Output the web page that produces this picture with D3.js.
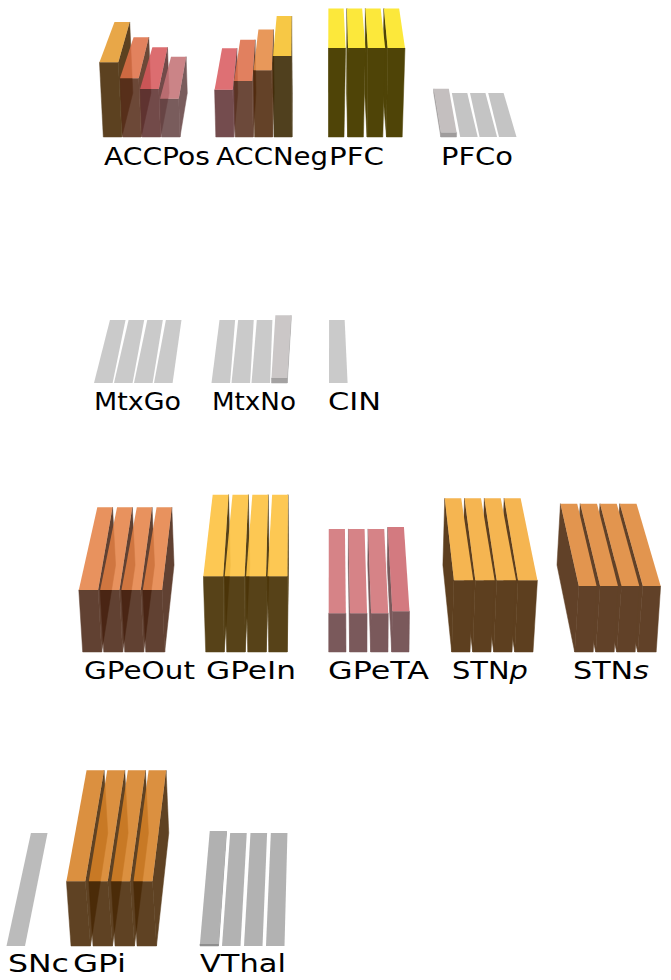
<!DOCTYPE html>
<html><head><meta charset="utf-8">
<style>html,body{margin:0;padding:0;background:#fff}svg{display:block}text{font-family:"DejaVu Sans",sans-serif;fill:#000}</style>
<script src="https://cdn.jsdelivr.net/npm/d3@7/dist/d3.min.js"></script>
</head><body><div id="c"></div>
<script>
// ---- data ----
const panelNames = ["ACCPos","ACCNeg","PFC","PFCo","MtxGo","MtxNo","CIN","GPeOut","GPeIn","GPeTA","STNp","STNs","SNc","GPi","VThal"];
const panelRows  = [0,0,0,0, 1,1,1, 2,2,2,2,2, 3,3,3];
const panelCols  = [0,1,2,3, 0,1,2, 0,1,2,3,4, -0.5,0,1];
const barValues = [
  [.84,.66,.54,.43],[.53,.63,.75,.91],[1,1,1,1],[.05,0,0,0],
  [0,0,0,0],[0,0,0,.055],[0],
  [.64,.64,.64,.64],[.78,.78,.78,.78],[.40,.40,.40,.42],[.74,.74,.74,.74],[.68,.68,.68,.68],
  [0],[.64,.64,.64,.64],[.02,0,0,0]
];
const topColors = [
  ["#E8A848","#E2835F","#DC6E70","#CC8488"],["#DE7074","#E2805F","#E8985A","#F8C845"],["#FCE83C","#FCE83C","#FCE83C","#FCE83C"],["#C4BFBF","#C4C4C4","#C4C4C4","#C4C4C4"],
  ["#CACACA","#CACACA","#CACACA","#CACACA"],["#CACACA","#CACACA","#CACACA","#CBC8C8"],["#CACACA"],
  ["#E8935F","#E8935F","#E8935F","#E8935F"],["#FDC853","#FDC853","#FDC853","#FDC853"],["#D78488","#D78488","#D78488","#D47A80"],["#F5B552","#F5B552","#F5B552","#F5B552"],["#E29650","#E29650","#E29650","#E29650"],
  ["#BBBBBB"],["#DC9040","#DC9040","#DC9040","#DC9040"],["#B2B2B2","#B2B2B2","#B2B2B2","#B2B2B2"]
];
const frontColors = [
  ["#5C4218","#6D4838","#734B4A","#7A5C5C"],["#744C4E","#6C4A3A","#644328","#504010"],["#504508","#504508","#504508","#504508"],["#A09C9C","#A0A0A0","#A0A0A0","#A0A0A0"],
  ["#A0A0A0","#A0A0A0","#A0A0A0","#A0A0A0"],["#A0A0A0","#A0A0A0","#A0A0A0","#A5A2A2"],["#A0A0A0"],
  ["#624233","#624233","#624233","#624233"],["#584218","#584218","#584218","#584218"],["#7A5A5C","#7A5A5C","#7A5A5C","#7A5A5C"],["#5E4020","#5E4020","#5E4020","#5E4020"],["#624229","#624229","#624229","#624229"],
  ["#909090"],["#5F4223","#5F4223","#5F4223","#5F4223"],["#909090","#909090","#909090","#909090"]
];
const panelAlpha = [.87,.88,.98,.85, .85,.85,.85, .85,.93,.85,.9,.85, .85,.88,.85];
// footprint and top-face widths as they appear in the picture
const panelFloorW    = [18.5,18,15.7,15.7, 15.7,15.7,15.7, 19,18.5,17.3,18.3,18.5, 18,19.5,18];
const panelTopFrontW = [18.5,18,17,15.7, 15.7,15.7,15.7, 19,19.5,17,19,17.5, 18,18.6,18];
const panelTopBackW  = [15,14.7,15,15, 15.7,15.7,15.7, 15,15.6,16,16.2,16.5, 16,17.2,16];
const labelWidths = [106,112,55,72, 87,84,53, 111,90,101,76,76, 61,53,86];
const labelLeft   = [104,216,329,441, 94,212,328, 84,206,328,452,573, 8,73,200];
// ---- stage of the scene, one entry per row ----
const rowFloorY = [137,383,652,946];
const rowDepth  = [44,63,87,113];
const rowX0     = [103.3,94,82.7,71];
const rowPitch  = [112.5,117.5,123,129];
const rowBarPitch = [19.4,20,21,22];
const rowTileW  = [17.5,18.6,18,18.5];
const rowTileB  = [15.4,15.6,16,16.6];
const rowFull   = [89,91,97,101];
const rowBack   = [.95,.94,.93,.97];
const rowBaseline = [165,410,679,972];
const rowFont = [25,25,24,25];
const vanish = {x:330,y:-550}, nadir = {x:330,y:4600};

const W=671,H=980;
const svg=d3.select("#c").append("svg").attr("width",W).attr("height",H);
const line=d3.line();
const poly=p=>line(p)+"Z";
const under=(c,a)=>{const o=d3.rgb(c),f=v=>Math.max(0,Math.min(255,(v-(1-a)*255)/a));return d3.rgb(f(o.r),f(o.g),f(o.b)).formatHex();};
const colX=rowX0.map((x,i)=>d3.scaleLinear().domain([0,1]).range([x,x+rowPitch[i]]));
const barX=rowBarPitch.map(p=>d3.scaleLinear().domain([0,1]).range([0,p]));
const zScale=rowFull.map(f=>d3.scaleLinear().domain([0,1]).range([0,f]));
function corner(r,xFront,back,v,dBack){
  const yF=rowFloorY[r]-(back?rowDepth[r]:0);
  let x=xFront+(vanish.x-xFront)*(rowFloorY[r]-yF)/(rowFloorY[r]-vanish.y);
  if(back) x+=dBack;
  const z=zScale[r](v)*(back?rowBack[r]:1);
  return [x+(x-nadir.x)*z/(nadir.y-yF),yF-z];
}
function bar(r,xL,v,i){
  const tile=v<.03;
  const wF=tile?rowTileW[r]:panelFloorW[i],
        wT=tile?rowTileW[r]:panelTopFrontW[i],
        wB=tile?rowTileB[r]:panelTopBackW[i];
  const fl0=corner(r,xL,0,0,0),fr0=corner(r,xL+wF,0,0,0),
        bl0=corner(r,xL,1,0,0),br0=corner(r,xL,1,0,wB),
        fl=corner(r,xL,0,v,0),fr=corner(r,xL+wT,0,v,0),
        bl=corner(r,xL,1,v,0),br=corner(r,xL,1,v,wB);
  return {front:[fl0,fr0,fr,fl],top:[fl,fr,br,bl],
          right:[fr0,br0,br,fr],left:[fl0,bl0,bl,fl],
          side:fr0[0]<vanish.x?"right":(fl0[0]>vanish.x?"left":null)};
}
const dark=(g,d,c)=>g.append("path").attr("d",d).attr("fill",c).attr("stroke",c).attr("stroke-width",.5).attr("stroke-linejoin","round");
panelNames.forEach((name,i)=>{
  const r=panelRows[i],x0=colX[r](panelCols[i]),a=panelAlpha[i];
  const vals=barValues[i];
  const bars=vals.map((v,k)=>bar(r,x0+barX[r](k),v,i));
  const panel=svg.append("g").attr("class","panel");
  const leftward=x0>=vanish.x-5;
  if(leftward){
    panel.attr("opacity",a);
    const tc=k=>under(topColors[i][k],a), fc=k=>under(frontColors[i][k],a);
    vals.forEach((v,k)=>{ if(v>0&&bars[k].side) dark(panel,poly(bars[k][bars[k].side]),fc(k)); });
    vals.forEach((v,k)=>{ if(v>0) dark(panel,poly(bars[k].front),fc(k)); });
    vals.forEach((v,k)=>{ panel.append("path").attr("d",poly(bars[k].top)).attr("fill",tc(k)); });
  } else {
    vals.forEach((v,k)=>{
      const b=bars[k],g=panel.append("g").attr("opacity",a),
            tc=under(topColors[i][k],a),fc=under(frontColors[i][k],a);
      if(v>0){
        if(b.side) dark(g,poly(b[b.side]),fc);
        dark(g,poly(b.front),fc);
      }
      g.append("path").attr("d",poly(b.top)).attr("fill",tc);
    });
  }
  const t=svg.append("text").attr("font-size",rowFont[r]);
  if(name.startsWith("STN")){
    t.append("tspan").text("STN");
    t.append("tspan").attr("font-style","italic").text(name.slice(3));
  } else t.text(name);
  const sx=labelWidths[i]/t.node().getComputedTextLength();
  t.attr("transform",`translate(${labelLeft[i]},${rowBaseline[r]}) scale(${sx},1)`);
});
</script></body></html>
